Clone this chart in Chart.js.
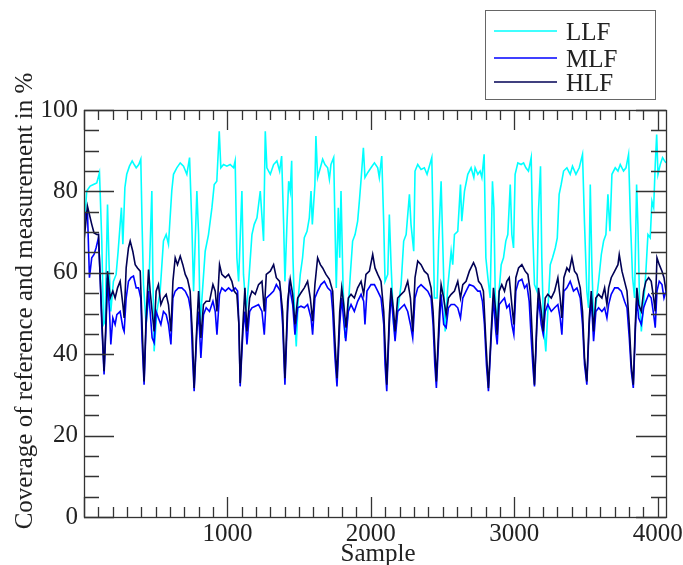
<!DOCTYPE html>
<html>
<head>
<meta charset="utf-8">
<title>Coverage of reference and measurement</title>
<script src="https://cdn.jsdelivr.net/npm/chart.js@4.4.1/dist/chart.umd.min.js"></script>
<style>
  html, body { margin: 0; padding: 0; background: #fff; }
  #chart { display: block; }
</style>
</head>
<body>
<canvas id="chart" width="683" height="565"></canvas>
<script>
// sample index and coverage (%), one pair of arrays per series
var llfSample = [0,19,43,66,89,108,124,136,147,164,175,187,205,224,238,252,261,271,285,298,317,336,350,364,382,396,405,415,433,450,473,480,489,508,531,554,573,589,612,624,647,671,694,717,736,752,764,787,799,810,829,845,868,892,908,926,943,954,973,996,1019,1043,1054,1066,1078,1101,1112,1131,1147,1171,1187,1206,1229,1252,1264,1275,1299,1322,1345,
  1364,1378,1392,1401,1415,1427,1438,1448,1457,1471,1480,1494,1508,1524,1536,1555,1571,1583,1592,1601,1610,1617,1629,1648,1664,1680,1699,1711,1722,1741,1750,1759,1773,1783,1792,1806,1820,1838,1857,1873,1890,1908,1920,1931,1948,1959,1978,2001,2025,2048,2059,2076,2090,2099,2118,2129,2141,2159,2169,2187,2211,2229,2246,2269,2280,2299,2308,2327,2350,2373,2392,2408,2425,2434,2443,2462,2473,2490,2501,2518,2536,2560,2571,2583,2606,2625,2634,2653,2676,2699,
  2718,2727,2746,2762,2774,2790,2802,2816,2832,2848,2858,2867,2878,2890,2909,2925,2941,2955,2972,2983,2995,3006,3025,3048,3065,3081,3099,3118,3127,3141,3158,3169,3183,3192,3204,3220,3234,3251,3267,3286,3300,3313,3327,3344,3367,3390,3406,3430,3453,3476,3490,3506,3518,3530,3541,3555,3569,3588,3607,3623,3639,3653,3667,3681,3704,3723,3739,3762,3779,3797,3811,3825,3839,3853,3862,3874,3886,3902,3918,3932,3948,3960,3972,3983,3993,4002,4018,4034,4048,4058];
var llfValue = [70.2,80.1,81.3,81.7,82.1,84.6,67.8,47.3,48.1,76.8,62.0,50.5,57.9,59.6,65.3,71.9,76.0,67.0,80.9,84.2,86.2,87.5,86.6,85.8,86.6,87.9,71.9,57.1,47.3,53.8,80.1,59.6,40.7,50.5,55.5,67.8,69.4,67.0,80.1,84.2,85.8,87.0,86.2,84.2,88.3,71.9,55.5,80.1,69.4,47.3,57.1,65.3,69.4,76.0,81.7,82.5,94.8,85.8,86.6,86.2,86.6,85.8,87.5,63.7,57.9,80.1,59.6,50.5,57.1,69.4,71.9,73.5,80.1,67.8,94.8,85.8,84.2,86.6,87.5,
  85.0,88.7,71.9,57.9,71.9,82.5,80.1,87.5,63.7,47.3,41.9,53.8,59.6,63.7,68.6,70.2,73.5,80.1,71.9,76.8,81.7,93.6,83.4,85.8,87.9,86.6,85.8,83.0,86.6,88.3,71.9,56.3,76.0,63.7,80.1,57.1,44.0,48.9,59.6,67.8,69.4,72.7,77.6,82.5,90.7,83.4,84.6,85.8,87.0,85.8,83.4,88.7,71.9,57.9,59.6,74.3,62.0,47.3,44.8,50.5,57.1,67.8,69.4,79.3,71.9,65.3,85.0,86.6,85.4,85.8,84.2,86.2,88.3,71.9,53.8,53.8,67.8,82.5,67.8,45.6,56.3,65.3,62.0,69.4,70.2,81.7,72.7,80.1,84.2,85.8,
  83.4,85.8,84.2,85.0,83.4,89.1,63.7,58.8,53.8,82.5,76.0,55.5,45.6,53.8,62.0,63.7,67.8,69.4,81.7,69.4,66.1,84.2,87.0,86.6,87.0,85.8,85.0,88.3,71.9,57.1,55.5,75.2,86.2,63.7,47.3,40.7,50.5,62.0,63.7,66.1,68.6,79.3,81.7,85.0,85.8,84.2,86.2,84.2,85.8,89.1,71.9,55.5,51.4,81.7,62.0,46.4,52.2,57.9,64.5,67.8,69.4,79.3,70.2,84.2,85.8,85.0,86.6,85.0,85.8,89.1,71.9,58.8,53.8,81.7,71.9,52.2,45.6,52.2,60.4,69.4,68.6,77.6,76.0,86.6,94.0,84.2,86.6,88.3,87.5,87.0];

var mlfSample = [0,8,24,38,54,70,84,101,112,124,140,154,164,178,187,201,217,229,252,271,280,294,310,327,345,364,380,396,405,419,433,450,461,475,489,503,519,536,554,573,589,606,620,636,659,682,706,729,745,757,768,787,799,815,833,852,875,899,915,927,945,961,985,1008,1031,1054,1071,1080,1089,1108,1122,1136,1155,1171,1194,1217,1241,1257,1271,1299,1322,1341,
  1369,1385,1401,1420,1431,1455,1471,1490,1513,1536,1559,1583,1594,1610,1629,1652,1676,1699,1722,1734,1750,1764,1783,1797,1811,1825,1843,1862,1885,1908,1932,1950,1959,1973,2001,2025,2048,2071,2090,2099,2111,2129,2141,2159,2169,2187,2211,2234,2257,2276,2292,2308,2327,2350,2373,2397,2420,2434,2446,2457,2478,2490,2508,2525,2541,2560,2583,2606,2625,2641,2664,2687,
  2716,2746,2762,2778,2792,2806,2820,2839,2855,2871,2881,2895,2913,2932,2948,2965,2983,2997,3011,3030,3053,3072,3088,3104,3118,3132,3141,3158,3169,3188,3202,3216,3234,3258,3281,3304,3320,3332,3346,3367,3390,3413,3437,3460,3476,3490,3506,3523,3537,3553,3569,3588,3611,3630,3646,3658,3676,3700,3723,3746,3769,3786,3802,3816,3830,3844,3855,3867,3886,3902,3918,3937,3955,3972,3983,3995,4011,4030,4044,4058];
var mlfValue = [69.4,74.3,75.2,58.8,63.7,64.5,66.1,68.6,59.6,47.3,35.0,47.3,58.8,50.5,42.4,48.9,47.3,49.7,50.5,46.5,45.6,53.8,57.9,58.8,59.2,56.3,56.3,53.8,43.2,32.5,47.3,55.5,50.5,44.0,42.8,50.5,48.9,47.3,50.5,49.7,47.3,42.4,53.8,55.5,56.3,56.3,55.5,53.8,50.5,39.1,30.9,45.6,50.5,39.1,49.7,51.4,50.5,53.0,50.5,44.8,54.7,56.3,55.5,56.3,55.5,56.3,55.5,47.3,32.1,45.6,50.5,42.4,50.5,51.4,51.8,52.2,50.5,44.8,53.8,54.7,55.5,57.1,
  55.5,47.3,32.5,50.5,57.1,52.2,44.8,51.4,51.8,51.4,52.2,48.9,44.8,53.8,55.5,57.1,57.9,56.3,55.5,50.5,39.1,32.1,47.3,53.8,48.1,43.2,50.5,52.2,50.5,53.0,54.7,53.0,47.3,55.5,57.1,57.1,55.5,53.8,47.3,37.4,30.9,47.3,54.7,47.3,43.2,50.5,51.4,52.2,50.5,47.3,44.0,53.8,56.3,57.1,56.3,55.5,53.8,47.3,37.4,31.7,47.3,54.7,47.3,46.5,51.4,52.2,52.2,51.4,48.9,53.8,55.5,57.1,
  56.7,55.5,55.5,53.0,47.3,37.4,30.9,44.0,53.8,45.6,42.4,52.2,53.0,53.8,51.4,52.2,47.3,44.8,55.5,57.9,58.4,56.3,57.1,53.0,44.0,35.8,32.1,47.3,53.8,47.3,44.8,50.5,52.2,50.5,51.4,52.2,48.9,44.8,55.5,56.3,57.9,55.5,56.3,53.8,47.3,37.4,32.5,47.3,53.8,43.2,50.5,51.4,50.5,51.4,48.9,52.2,54.7,56.3,56.3,55.5,53.0,51.4,44.0,35.8,31.7,45.6,53.8,48.9,47.3,51.4,53.0,54.7,53.8,49.7,46.5,55.5,57.9,57.1,53.8,55.5];

var hlfSample = [0,24,38,54,70,89,101,112,126,140,154,164,182,201,217,234,252,271,280,294,310,322,340,357,373,392,405,419,433,450,461,475,489,503,519,536,554,573,589,606,620,636,652,671,689,706,722,740,757,768,787,799,815,833,852,875,899,915,927,945,961,985,1008,1031,1047,1066,1080,1089,1108,1122,1136,1155,1171,1194,1217,1241,1257,1271,1299,1322,1341,
  1364,1385,1401,1420,1438,1455,1471,1490,1513,1536,1559,1578,1594,1610,1629,1648,1664,1687,1711,1734,1750,1764,1783,1797,1811,1827,1843,1862,1885,1908,1932,1950,1966,1990,2013,2029,2048,2071,2090,2111,2129,2141,2159,2169,2187,2211,2234,2257,2276,2292,2308,2327,2350,2373,2397,2420,2434,2457,2478,2490,2508,2525,2541,2560,2583,2606,2625,2641,2664,2687,
  2716,2732,2751,2769,2785,2802,2820,2839,2855,2871,2881,2895,2913,2932,2948,2965,2983,2997,3011,3030,3053,3076,3095,3111,3127,3141,3158,3169,3188,3202,3216,3234,3258,3281,3304,3320,3332,3346,3367,3383,3402,3420,3437,3460,3476,3490,3506,3523,3537,3553,3569,3588,3611,3630,3646,3658,3676,3700,3723,3732,3751,3769,3786,3802,3816,3830,3844,3855,3867,3886,3902,3918,3937,3955,3972,3983,3995,4011,4030,4044,4058];
var hlfValue = [67.8,76.4,74.3,71.9,69.8,69.4,69.4,59.6,47.3,35.8,48.9,60.4,53.8,55.5,53.8,56.3,57.9,52.2,48.9,61.2,66.1,67.8,65.3,62.0,61.2,60.4,47.3,33.3,48.9,60.8,55.5,50.5,45.6,55.5,57.1,52.2,53.8,54.7,52.2,45.6,57.9,63.7,62.0,64.1,62.0,59.6,58.4,55.5,44.0,31.7,47.3,55.5,44.0,52.2,53.0,53.0,57.1,55.5,50.5,62.0,59.6,58.8,59.6,57.9,55.5,54.7,47.3,32.9,47.3,56.3,45.6,53.8,55.5,54.7,57.1,57.9,50.5,59.6,60.4,62.0,58.8,
  57.9,50.5,34.1,53.0,58.4,54.7,47.3,53.8,55.1,56.3,57.9,53.8,48.1,57.1,63.7,62.0,61.2,59.6,58.4,55.5,43.2,34.1,50.5,56.3,52.2,46.5,53.8,54.7,53.8,56.3,57.9,54.7,59.6,60.4,64.5,61.2,59.6,57.9,50.5,32.5,49.7,56.3,50.5,45.6,53.8,54.7,55.5,57.9,53.8,45.6,58.8,62.9,62.0,60.4,59.6,56.3,50.5,33.3,50.5,57.1,53.8,49.7,53.8,54.7,55.5,57.9,53.8,57.1,57.9,60.4,
  62.5,61.2,57.9,57.1,55.5,43.2,31.7,45.6,56.3,50.5,44.8,55.5,57.1,55.5,57.9,58.8,52.2,47.3,58.8,61.2,62.0,60.4,59.6,55.5,43.2,32.5,48.9,56.3,50.5,45.6,53.8,54.7,53.8,55.5,58.8,53.8,48.9,58.8,61.2,60.4,63.7,60.4,59.6,56.3,50.5,39.1,33.3,48.9,55.5,45.6,53.8,54.7,53.8,56.3,52.2,56.3,58.8,60.4,62.0,64.5,60.4,57.9,55.5,47.3,37.4,32.5,47.3,56.3,52.2,50.5,55.5,57.9,58.8,57.9,53.8,50.5,63.7,62.0,60.4,58.8,55.5];

var seriesNames = ['LLF', 'MLF', 'HLF'];
var seriesColors = ['#00ffff', '#0000ff', '#000055'];
var xTickLabels = [1000, 2000, 3000, 4000];
var yTickLabels = [0, 20, 40, 60, 80, 100];
var xTitle = 'Sample';
var yTitle = 'Coverage of reference and measurement in %';

var serif = "'Liberation Serif', 'Times New Roman', serif";
var ink = '#222';

function toPoints(xs, ys) {
    return xs.map(function (x, i) { return {x: x, y: ys[i]}; });
}

// frame with inward ticks on all four sides, titles and the boxed legend
var gracePlot = {
    id: 'gracePlot',
    afterDatasetsDraw: function (chart) {
        var a = chart.chartArea, xs = chart.scales.x, ys = chart.scales.y, ctx = chart.ctx;
        ctx.save();
        ctx.strokeStyle = '#333';
        ctx.lineWidth = 1.3;
        ctx.strokeRect(a.left + 0.5, a.top + 0.5, a.right - a.left, a.bottom - a.top);
        ctx.beginPath();
        for (var v = 0; v <= xs.max; v += 100) {
            var px = Math.round(xs.getPixelForValue(v)) + 0.5;
            var len = v % 1000 === 0 ? 20 : 10;
            ctx.moveTo(px, a.bottom); ctx.lineTo(px, a.bottom - len);
            ctx.moveTo(px, a.top); ctx.lineTo(px, a.top + len);
        }
        for (var w = 0; w <= 100; w += 5) {
            var py = Math.round(ys.getPixelForValue(w)) + 0.5;
            var len2 = w % 20 === 0 ? 30 : 15;
            ctx.moveTo(a.left, py); ctx.lineTo(a.left + len2, py);
            ctx.moveTo(a.right, py); ctx.lineTo(a.right - len2, py);
        }
        ctx.stroke();
        ctx.restore();
    },
    afterDraw: function (chart) {
        var ctx = chart.ctx, a = chart.chartArea;
        ctx.save();
        ctx.fillStyle = ink;
        ctx.font = '25px ' + serif;
        ctx.textAlign = 'center';
        ctx.textBaseline = 'alphabetic';
        ctx.fillText(xTitle, (a.left + a.right) / 2 + 3, 561);
        ctx.translate(32, 301);
        ctx.rotate(-Math.PI / 2);
        ctx.fillText(yTitle, 0, 0);
        ctx.restore();

        // legend box
        ctx.save();
        ctx.strokeStyle = '#666';
        ctx.lineWidth = 1;
        ctx.strokeRect(485.5, 10.5, 170, 89);
        var rows = [31, 58, 82];
        chart.data.datasets.forEach(function (ds, i) {
            ctx.strokeStyle = ds.borderColor;
            ctx.lineWidth = 1.5;
            ctx.beginPath();
            ctx.moveTo(494, rows[i]);
            ctx.lineTo(557, rows[i]);
            ctx.stroke();
            ctx.fillStyle = ink;
            ctx.font = '25px ' + serif;
            ctx.textAlign = 'left';
            ctx.textBaseline = 'alphabetic';
            ctx.fillText(ds.label, 566, rows[i] + 9);
        });
        ctx.restore();
    }
};

var ctx = document.getElementById('chart').getContext('2d');
new Chart(ctx, {
    type: 'line',
    data: {
        datasets: [
            {label: seriesNames[0], data: toPoints(llfSample, llfValue), borderColor: seriesColors[0], order: 2},
            {label: seriesNames[1], data: toPoints(mlfSample, mlfValue), borderColor: seriesColors[1], order: 1},
            {label: seriesNames[2], data: toPoints(hlfSample, hlfValue), borderColor: seriesColors[2], order: 0}
        ]
    },
    options: {
        responsive: false,
        animation: false,
        events: [],
        layout: {padding: {top: 110, right: 17, left: 0, bottom: 0}},
        elements: {
            point: {radius: 0},
            line: {borderWidth: 1.6, tension: 0, fill: false}
        },
        plugins: {legend: {display: false}, tooltip: {enabled: false}},
        scales: {
            x: {
                type: 'linear',
                min: 0,
                max: 4058,
                grid: {display: false, drawTicks: false},
                border: {display: false},
                ticks: {
                    color: ink,
                    font: {family: serif, size: 25},
                    padding: 2,
                    maxRotation: 0,
                    autoSkip: false,
                    callback: function (v) { return String(v); }
                },
                afterBuildTicks: function (s) {
                    s.ticks = xTickLabels.map(function (v) { return {value: v}; });
                },
                afterFit: function (s) {
                    s.height = 48;
                    s.paddingLeft = 0;
                    s.paddingRight = 0;
                }
            },
            y: {
                type: 'linear',
                min: 0,
                max: 100,
                grid: {display: false, drawTicks: false},
                border: {display: false},
                ticks: {
                    color: ink,
                    font: {family: serif, size: 25},
                    padding: 6,
                    callback: function (v) { return String(v); }
                },
                afterBuildTicks: function (s) {
                    s.ticks = yTickLabels.map(function (v) { return {value: v}; });
                },
                afterFit: function (s) {
                    s.width = 84;
                    s.paddingTop = 0;
                    s.paddingBottom = 0;
                }
            }
        }
    },
    plugins: [gracePlot]
});
</script>
</body>
</html>
